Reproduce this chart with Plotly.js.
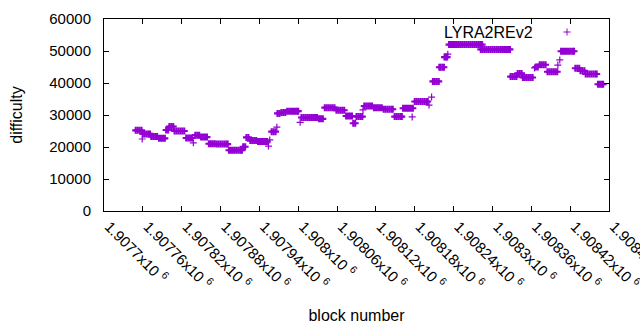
<!DOCTYPE html>
<html>
<head>
<meta charset="utf-8">
<script src="https://cdn.plot.ly/plotly-3.0.1.min.js"></script>
<style>
  html, body { margin: 0; padding: 0; background: #ffffff; }
  #chart { width: 640px; height: 330px; }
</style>
</head>
<body>
<div id="chart"></div>
<script>
// block numbers
var blocks = [
  1907749, 1907752, 1907755, 1907758,
  1907759,
  1907760, 1907763, 1907766, 1907769, 1907771,
  1907773, 1907776, 1907779, 1907782,
  1907785, 1907788, 1907791, 1907794,
  1907796, 1907799,
  1907801, 1907804, 1907807,
  1907809, 1907812, 1907815, 1907818, 1907821, 1907824,
  1907827, 1907830, 1907833, 1907836,
  1907838,
  1907841, 1907844, 1907847,
  1907850, 1907853, 1907856, 1907859,
  1907862, 1907865, 1907868, 1907871,
  1907874, 1907877, 1907880, 1907883, 1907886, 1907889, 1907891,
  1907893, 1907896, 1907899, 1907902, 1907905, 1907908, 1907911, 1907913,
  1907915, 1907918,
  1907920, 1907923,
  1907926, 1907929, 1907932, 1907935,
  1907938, 1907941, 1907944, 1907947, 1907950, 1907952,
  1907954,
  1907956,
  1907959, 1907962, 1907965,
  1907967,
  1907968, 1907971,
  1907974, 1907977, 1907980,
  1907983, 1907986, 1907989, 1907992, 1907995, 1907998, 1908000,
  1908003,
  1908005, 1908008, 1908011, 1908014, 1908017, 1908020, 1908023, 1908026, 1908029,
  1908032, 1908035, 1908038,
  1908041, 1908044, 1908047, 1908050, 1908053, 1908056,
  1908059, 1908062, 1908065, 1908068, 1908071,
  1908074, 1908077, 1908080, 1908083,
  1908085, 1908088,
  1908090, 1908093, 1908096, 1908099,
  1908100,
  1908102, 1908105, 1908108, 1908111, 1908114,
  1908117, 1908120, 1908123, 1908126, 1908129,
  1908132, 1908135, 1908138, 1908141, 1908144, 1908146,
  1908149, 1908152, 1908155, 1908158, 1908160,
  1908162, 1908165, 1908168, 1908171, 1908174, 1908177,
  1908176,
  1908180, 1908183, 1908186, 1908189, 1908192, 1908195, 1908198, 1908200,
  1908202,
  1908206,
  1908208, 1908211, 1908214, 1908217,
  1908218, 1908220, 1908223, 1908225,
  1908226, 1908228, 1908230,
  1908231,
  1908233, 1908236, 1908239, 1908242, 1908245, 1908248, 1908251, 1908254, 1908257,
  1908260, 1908263, 1908266, 1908269, 1908272, 1908275, 1908278, 1908281, 1908284,
  1908282, 1908285, 1908288, 1908291, 1908294, 1908297, 1908300, 1908303,
  1908306, 1908309, 1908312, 1908315, 1908318, 1908321, 1908324, 1908327,
  1908328, 1908331, 1908334, 1908337,
  1908339, 1908342, 1908345,
  1908347, 1908350, 1908353, 1908356, 1908359, 1908362,
  1908365,
  1908367, 1908370,
  1908373, 1908376, 1908379, 1908382,
  1908385, 1908388, 1908391, 1908394, 1908397, 1908400,
  1908401,
  1908404,
  1908406, 1908409, 1908412, 1908415, 1908418, 1908421, 1908424, 1908426,
  1908428, 1908431, 1908434,
  1908436, 1908439, 1908442,
  1908444, 1908447, 1908450, 1908453, 1908456, 1908459, 1908461,
  1908463, 1908466, 1908469, 1908471
];

// difficulty for each block above (same line layout)
var difficulty = [
  25200, 25200, 25200, 25200,
  22500,
  24100, 24100, 24100, 24100, 24100,
  23300, 23300, 23300, 23300,
  22700, 22700, 22700, 22700,
  25300, 25300,
  26400, 26400, 26400,
  25000, 25000, 25000, 25000, 25000, 25000,
  22800, 22800, 22800, 22800,
  21300,
  23700, 23700, 23700,
  23100, 23100, 23100, 23100,
  21000, 21000, 21000, 21000,
  20900, 20900, 20900, 20900, 20900, 20900, 20900,
  19000, 19000, 19000, 19000, 19000, 19000, 19000, 19000,
  20100, 20100,
  23000, 23000,
  22000, 22000, 22000, 22000,
  21700, 21700, 21700, 21700, 21700, 21700,
  20300,
  22200,
  24800, 24800, 24800,
  26200,
  30500, 30500,
  30800, 30800, 30800,
  31200, 31200, 31200, 31200, 31200, 31200, 31200,
  27700,
  29200, 29200, 29200, 29200, 29200, 29200, 29200, 29200, 29200,
  28800, 28800, 28800,
  32300, 32300, 32300, 32300, 32300, 32300,
  31500, 31500, 31500, 31500, 31500,
  29700, 29700, 29700, 29700,
  27400, 27400,
  29500, 29500, 29500, 29500,
  31600,
  32800, 32800, 32800, 32800, 32800,
  32300, 32300, 32300, 32300, 32300,
  31800, 31800, 31800, 31800, 31800, 31800,
  29500, 29500, 29500, 29500, 29500,
  32100, 32100, 32100, 32100, 32100, 32100,
  29400,
  34200, 34200, 34200, 34200, 34200, 34200, 34200, 34200,
  33100,
  35600,
  40500, 40500, 40500, 40500,
  44900, 44900, 44900, 44900,
  48100, 48100, 48100,
  49000,
  52000, 52000, 52000, 52000, 52000, 52000, 52000, 52000, 52000,
  52000, 52000, 52000, 52000, 52000, 52000, 52000, 52000, 52000,
  50500, 50500, 50500, 50500, 50500, 50500, 50500, 50500,
  50500, 50500, 50500, 50500, 50500, 50500, 50500, 50500,
  42000, 42000, 42000, 42000,
  43000, 43000, 43000,
  41700, 41700, 41700, 41700, 41700, 41700,
  44700,
  45000, 45000,
  45700, 45700, 45700, 45700,
  43500, 43500, 43500, 43500, 43500, 43500,
  45600,
  47200,
  49900, 49900, 49900, 49900, 49900, 49900, 49900, 49900,
  44600, 44600, 44600,
  43800, 43800, 43800,
  42800, 42800, 42800, 42800, 42800, 42800, 42800,
  39600, 39600, 39600, 39600
];

var seriesName = "LYRA2REv2";

var xTickVals = [1907700, 1907760, 1907820, 1907880, 1907940, 1908000, 1908060,
                 1908120, 1908180, 1908240, 1908300, 1908360, 1908420, 1908480];
var xTickMant = ["1.9077", "1.90776", "1.90782", "1.90788", "1.90794", "1.908", "1.90806",
                 "1.90812", "1.90818", "1.90824", "1.9083", "1.90836", "1.90842", "1.90848"];
var yTickVals = [0, 10000, 20000, 30000, 40000, 50000, 60000];
var yTickText = ["0", "10000", "20000", "30000", "40000", "50000", "60000"];

var violet = "#9400d3";
var fontFam = "Liberation Sans, Arial, sans-serif";

var xTickText = xTickMant.map(function (m) { return m + "x10 <sup>6</sup>"; });

// isolated points drawn with a thinner stroke, dense runs with a thicker one (style only)
var strokeW = blocks.map(function (b, i) {
  var near = false;
  for (var j = 0; j < blocks.length; j++) {
    if (j !== i && difficulty[j] === difficulty[i] && Math.abs(blocks[j] - b) <= 4) { near = true; break; }
  }
  return near ? 2.1 : 1.2;
});

var trace = {
  type: "scatter",
  mode: "markers",
  x: blocks,
  y: difficulty,
  name: seriesName,
  showlegend: false,
  hoverinfo: "x+y",
  marker: {
    symbol: "cross-thin",
    size: 5,
    color: violet,
    line: { color: violet, width: strokeW }
  }
};

var layout = {
  width: 640,
  height: 330,
  margin: { l: 104, r: 31, t: 19, b: 119, pad: 0 },
  paper_bgcolor: "#ffffff",
  plot_bgcolor: "#ffffff",
  font: { family: fontFam, size: 15, color: "#000000" },
  showlegend: false,
  xaxis: {
    range: [1907700, 1908480],
    tickmode: "array",
    tickvals: xTickVals,
    ticktext: xTickText,
    tickangle: 45,
    ticks: "inside",
    ticklen: 5,
    tickcolor: "#000000",
    tickwidth: 1,
    mirror: "ticks",
    showline: true,
    linecolor: "#000000",
    linewidth: 1,
    showgrid: false,
    zeroline: false,
    ticklabelshift: 5,
    ticklabeloverflow: "allow",
    tickfont: { family: fontFam, size: 15, color: "#000000" },
    title: { text: "block number", font: { family: fontFam, size: 16, color: "#000000" }, standoff: 18 },
    automargin: false
  },
  yaxis: {
    range: [0, 60000],
    tickmode: "array",
    tickvals: yTickVals,
    ticktext: yTickText,
    ticks: "inside",
    ticklen: 5,
    tickcolor: "#000000",
    tickwidth: 1,
    mirror: "ticks",
    showline: true,
    linecolor: "#000000",
    linewidth: 1,
    showgrid: false,
    zeroline: false,
    ticklabelstandoff: 9,
    tickfont: { family: fontFam, size: 15, color: "#000000" },
    title: { text: "difficulty", font: { family: fontFam, size: 16, color: "#000000" }, standoff: 22 },
    automargin: false
  },
  annotations: [{
    xref: "paper", yref: "paper",
    x: (535 - 104) / 505, y: (211 - 32) / 192,
    xanchor: "right", yanchor: "middle",
    text: seriesName,
    showarrow: false,
    font: { family: fontFam, size: 16, color: "#000000" }
  }],
  shapes: [
    { type: "line", xref: "paper", yref: "paper", xsizemode: "pixel", ysizemode: "pixel",
      xanchor: (567 - 104) / 505, yanchor: (211 - 32) / 192,
      x0: -3.5, x1: 3.5, y0: 0, y1: 0, line: { color: violet, width: 1 } },
    { type: "line", xref: "paper", yref: "paper", xsizemode: "pixel", ysizemode: "pixel",
      xanchor: (567 - 104) / 505, yanchor: (211 - 32) / 192,
      x0: 0, x1: 0, y0: -3.5, y1: 3.5, line: { color: violet, width: 1 } }
  ]
};

Plotly.newPlot("chart", [trace], layout, { displayModeBar: false, staticPlot: true });
</script>
</body>
</html>
